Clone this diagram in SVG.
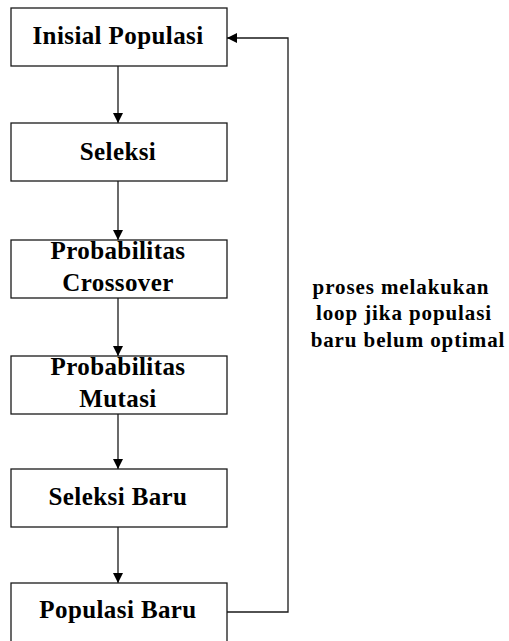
<svg xmlns="http://www.w3.org/2000/svg" width="509" height="641" viewBox="0 0 509 641">
<defs>
<style>
.box{fill:#fff;stroke:#1a1a1a;stroke-width:1.3}
.t{font-family:"Liberation Serif","Times New Roman",serif;font-weight:bold;font-size:25px;fill:#000;text-anchor:middle;letter-spacing:0.4px}
.n{font-family:"Liberation Serif","Times New Roman",serif;font-weight:bold;font-size:21px;fill:#000;text-anchor:middle;letter-spacing:0.9px}
.c{fill:none;stroke:#1a1a1a;stroke-width:1.3}
</style>
<marker id="ah" viewBox="0 0 10 10" refX="10" refY="5" markerWidth="10" markerHeight="10" markerUnits="userSpaceOnUse" orient="auto">
<path d="M0,0 L10,5 L0,10 Z" fill="#000"/>
</marker>
</defs>
<g id="connectors">
<line class="c" x1="118" y1="66" x2="118" y2="123" marker-end="url(#ah)"/>
<line class="c" x1="118" y1="181" x2="118" y2="240" marker-end="url(#ah)"/>
<line class="c" x1="118" y1="298" x2="118" y2="356" marker-end="url(#ah)"/>
<line class="c" x1="118" y1="414" x2="118" y2="469" marker-end="url(#ah)"/>
<line class="c" x1="118" y1="527" x2="118" y2="583" marker-end="url(#ah)"/>
<polyline class="c" points="227,612 288,612 288,38 227,38" marker-end="url(#ah)"/>
</g>
<g id="n1"><rect class="box" x="11" y="8" width="216" height="58"/><text class="t" x="118" y="44">Inisial Populasi</text></g>
<g id="n2"><rect class="box" x="11" y="123" width="216" height="58"/><text class="t" x="118" y="160">Seleksi</text></g>
<g id="n3"><rect class="box" x="11" y="240" width="216" height="58"/><text class="t" x="118" y="259">Probabilitas</text><text class="t" x="118" y="291">Crossover</text></g>
<g id="n4"><rect class="box" x="11" y="356" width="216" height="58"/><text class="t" x="118" y="375">Probabilitas</text><text class="t" x="118" y="407">Mutasi</text></g>
<g id="n5"><rect class="box" x="11" y="469" width="216" height="58"/><text class="t" x="118" y="505">Seleksi Baru</text></g>
<g id="n6"><rect class="box" x="11" y="583" width="216" height="62"/><text class="t" x="118" y="618">Populasi Baru</text></g>
<g id="loop-label">
<text class="n" x="401" y="294">proses melakukan</text>
<text class="n" x="404" y="320">loop jika populasi</text>
<text class="n" x="408" y="347">baru belum optimal</text>
</g>
</svg>
